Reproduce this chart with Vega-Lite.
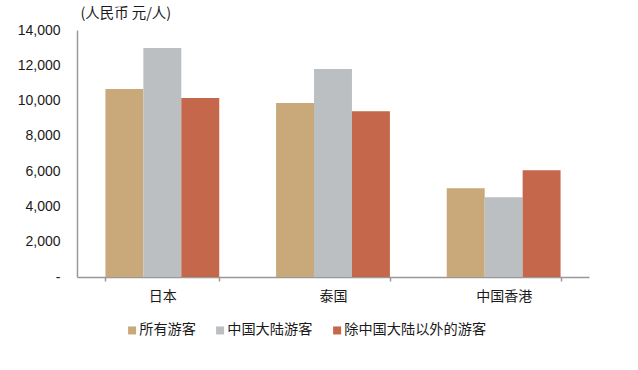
{
"$schema":"https://vega.github.io/schema/vega-lite/v6.json",
"width":512,"height":247,
"autosize":{"type":"none"},
"padding":{"left":77,"top":30,"right":49,"bottom":93},
"background":"white",
"data":{"values":[
{"region":"日本","series":"所有游客","value":10650},
{"region":"日本","series":"中国大陆游客","value":12980},
{"region":"日本","series":"除中国大陆以外的游客","value":10140},
{"region":"泰国","series":"所有游客","value":9860},
{"region":"泰国","series":"中国大陆游客","value":11790},
{"region":"泰国","series":"除中国大陆以外的游客","value":9400},
{"region":"中国香港","series":"所有游客","value":5030},
{"region":"中国香港","series":"中国大陆游客","value":4520},
{"region":"中国香港","series":"除中国大陆以外的游客","value":6050}
]},
"mark":{"type":"bar"},
"encoding":{
"x":{"field":"region","type":"nominal","sort":["日本","泰国","中国香港"],
"scale":{"paddingInner":0.333,"paddingOuter":0.1665},
"axis":{"title":null,"labelAngle":0,"labelFont":"Noto Sans CJK SC","labelFontSize":14,"labelColor":"#1a1a1a","labelPadding":8,"domainColor":"#999999","domainWidth":1.5,"tickColor":"#999999","tickSize":4,"tickWidth":1.5,"tickBand":"extent"}},
"xOffset":{"field":"series","type":"nominal","sort":["所有游客","中国大陆游客","除中国大陆以外的游客"],"scale":{"paddingInner":0,"paddingOuter":0}},
"y":{"field":"value","type":"quantitative","scale":{"domain":[0,14000],"nice":false},
"axis":{"title":"(人民币 元/人)","titleFont":"Noto Sans CJK SC","titleFontWeight":"normal","titleFontSize":14.4,"titleColor":"#1a1a1a","titleAngle":0,"titleAlign":"left","titleBaseline":"middle","titleX":3,"titleY":-17,
"values":[0,2000,4000,6000,8000,10000,12000,14000],
"labelExpr":"datum.value==0?'-':format(datum.value,',')",
"labelFont":"Liberation Sans","labelFontSize":14,"labelColor":"#1a1a1a","labelPadding":17,"ticks":false,"tickSize":0,"grid":false,"domainColor":"#999999","domainWidth":1.5}},
"color":{"field":"series","type":"nominal","sort":["所有游客","中国大陆游客","除中国大陆以外的游客"],
"scale":{"domain":["所有游客","中国大陆游客","除中国大陆以外的游客"],"range":["#C9A87A","#BBBFC2","#C4674A"]},
"legend":{"title":null,"orient":"none","direction":"horizontal","columns":3,"legendX":48,"legendY":293,"symbolType":"square","symbolSize":64,"symbolStrokeWidth":0,"labelFont":"Noto Sans CJK SC","labelFontSize":14.2,"labelColor":"#1a1a1a","labelOffset":0,"columnPadding":17}}
},
"config":{"view":{"stroke":null},"axis":{"labelOverlap":false},"bar":{"stroke":null}}
}
